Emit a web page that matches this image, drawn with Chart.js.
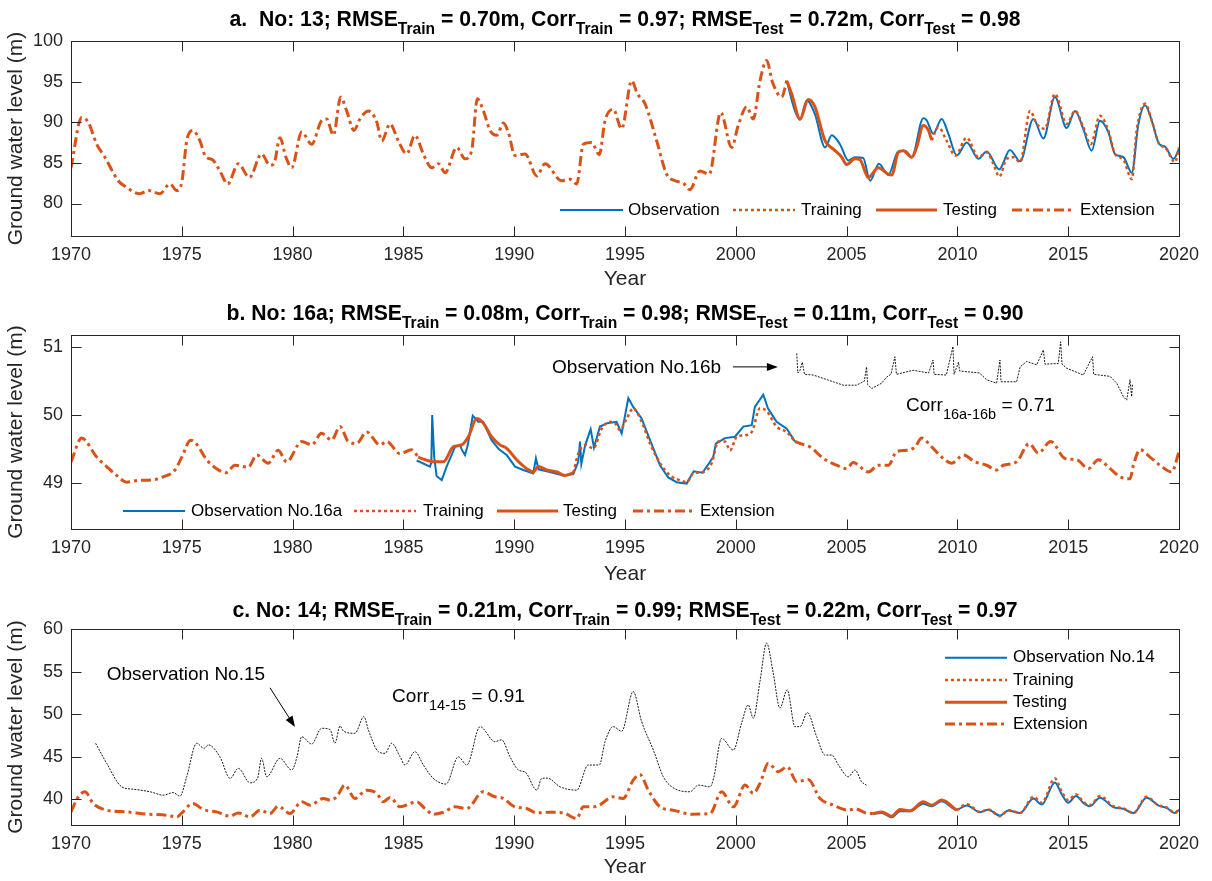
<!DOCTYPE html>
<html>
<head>
<meta charset="utf-8">
<script src="https://cdn.jsdelivr.net/npm/chart.js@4"></script>
<style>
  body { margin: 0; background: #fff; }
  #wrap { position: relative; width: 1212px; height: 881px; }
  canvas { position: absolute; left: 0; }
</style>
</head>
<body>
<div id="wrap">
  <canvas id="chartA" width="1212" height="295" style="top:0"></canvas>
  <canvas id="chartB" width="1212" height="295" style="top:295px"></canvas>
  <canvas id="chartC" width="1212" height="291" style="top:590px"></canvas>
</div>
<script>
const FONT = "'Liberation Sans', Arial, Helvetica, sans-serif";
const AXIS = '#262626';
const BLUE = '#0072BD';
const ORANGE = '#D95319';

// shared axis ticks
const xTicks = [1970, 1975, 1980, 1985, 1990, 1995, 2000, 2005, 2010, 2015, 2020];
const yTicksA = [80, 85, 90, 95, 100];
const yTicksB = [49, 50, 51];
const yTicksC = [40, 45, 50, 55, 60];

// ---- well 13 ----
const aExtension = [[1970.0,84.4],[1970.48,90.6],[1970.78,90.0],[1971.16,87.3],[1971.53,85.7],[1972.13,82.8],[1972.5,82.0],[1973.1,81.2],[1973.5,81.6],[1974.0,81.2],[1974.47,82.4],[1974.77,81.6],[1975.0,82.6],[1975.22,87.7],[1975.49,89.0],[1975.82,87.7],[1976.05,85.9],[1976.42,85.3],[1976.72,84.0],[1977.07,82.4],[1977.55,84.9],[1978.05,83.2],[1978.6,86.1],[1978.98,84.7],[1979.16,84.9],[1979.43,88.1],[1979.7,85.7],[1979.96,84.4],[1980.41,88.8],[1980.86,87.3],[1981.31,90.2],[1981.54,90.4],[1981.84,88.4],[1982.17,93.1],[1982.44,91.4],[1982.77,89.0],[1983.04,90.4],[1983.42,91.4],[1983.8,90.0],[1984.02,87.7],[1984.4,89.8],[1984.77,87.7],[1985.15,86.1],[1985.52,88.4],[1985.9,86.1],[1986.28,84.4],[1986.58,84.9],[1986.88,83.8],[1987.41,86.9],[1987.78,85.5],[1988.08,86.5],[1988.34,92.9],[1988.61,91.4],[1988.91,89.0],[1989.21,88.4],[1989.51,89.9],[1989.73,88.8],[1990.04,85.9],[1990.49,86.1],[1991.02,83.4],[1991.39,84.9],[1992.14,82.8],[1992.52,83.0],[1992.82,82.4],[1993.12,87.3],[1993.5,87.5],[1993.84,86.0],[1994.1,90.2],[1994.47,91.6],[1994.85,89.2],[1995.3,95.1],[1995.56,93.5],[1995.9,92.3],[1996.43,87.7],[1996.88,83.6],[1997.26,82.8],[1997.63,82.5],[1997.93,81.7],[1998.38,84.0],[1998.8,83.6],[1999.32,91.2],[1999.81,86.9],[2000.11,89.6],[2000.49,91.9],[2000.79,90.4],[2001.09,95.1],[2001.39,97.6],[2001.66,94.9],[2002.07,93.1],[2002.3,95.1]];
const aTesting = [[2002.3,95.1],[2002.52,93.5],[2002.9,90.4],[2003.27,92.8],[2003.57,91.9],[2004.03,87.7],[2004.4,86.7],[2004.78,85.7],[2005.0,84.8],[2005.38,85.5],[2005.6,85.4],[2005.98,83.2],[2006.43,84.4],[2006.88,83.6],[2007.04,83.5],[2007.33,86.3],[2007.56,86.5],[2007.94,85.7],[2008.16,86.9],[2008.46,89.6],[2008.69,89.0],[2008.84,87.8]];
const aTraining = [[2008.84,87.8],[2009.14,89.4],[2009.52,87.7],[2009.9,85.9],[2010.42,88.1],[2010.95,85.7],[2011.32,86.3],[2011.62,84.9],[2011.89,83.3],[2012.22,85.5],[2012.52,85.7],[2012.83,85.1],[2013.28,91.4],[2013.58,89.8],[2013.95,89.2],[2014.4,93.5],[2014.93,89.8],[2015.31,91.4],[2015.68,89.4],[2016.02,87.3],[2016.43,90.8],[2016.81,89.0],[2017.11,86.1],[2017.49,85.4],[2017.87,83.0],[2018.09,89.0],[2018.47,92.3],[2018.77,90.2],[2019.11,87.3],[2019.37,86.9],[2019.82,85.1],[2020.0,86.9]];
const aObserved = [[2002.3,95.1],[2002.67,91.4],[2002.9,90.3],[2003.2,92.7],[2003.57,91.0],[2004.03,86.9],[2004.33,88.4],[2004.7,87.3],[2005.08,85.3],[2005.38,85.7],[2005.75,85.6],[2006.06,82.8],[2006.46,84.9],[2006.88,83.5],[2007.33,86.4],[2007.64,86.5],[2007.94,85.7],[2008.46,90.5],[2008.6,90.3],[2008.91,88.6],[2009.29,90.4],[2009.59,88.6],[2009.97,85.9],[2010.42,87.5],[2010.95,85.5],[2011.32,86.4],[2011.89,84.2],[2012.37,86.6],[2012.83,85.2],[2013.43,90.4],[2013.88,88.0],[2014.4,93.1],[2014.93,89.3],[2015.31,91.4],[2015.68,89.2],[2016.06,86.5],[2016.43,90.2],[2016.81,88.8],[2017.11,86.1],[2017.49,85.7],[2017.87,83.8],[2018.17,89.8],[2018.47,92.1],[2018.77,90.2],[2019.11,87.3],[2019.37,87.0],[2019.75,85.5],[2020.0,86.7]];

// ---- well 16a / 16b ----
const bExtension = [[1970.0,49.31],[1970.48,49.66],[1971.16,49.38],[1971.61,49.24],[1972.06,49.11],[1972.51,49.01],[1973.11,49.04],[1973.5,49.04],[1974.17,49.09],[1974.69,49.19],[1975.0,49.38],[1975.4,49.63],[1975.67,49.57],[1976.12,49.34],[1976.57,49.21],[1976.99,49.15],[1977.4,49.26],[1978.0,49.23],[1978.38,49.41],[1978.9,49.29],[1979.35,49.48],[1979.73,49.31],[1980.41,49.61],[1980.86,49.56],[1981.31,49.73],[1981.76,49.63],[1982.14,49.83],[1982.51,49.61],[1982.89,49.58],[1983.34,49.75],[1983.94,49.56],[1984.25,49.61],[1984.85,49.43],[1985.37,49.49],[1985.67,49.38],[1994.0,null],[2002.67,49.61],[2002.9,49.58],[2003.35,49.53],[2003.95,49.36],[2004.55,49.26],[2005.0,49.21],[2005.3,49.30],[2005.98,49.16],[2006.43,49.26],[2006.88,49.26],[2007.26,49.46],[2007.71,49.48],[2008.09,49.53],[2008.39,49.66],[2008.84,49.53],[2009.29,49.38],[2009.74,49.29],[2010.27,49.41],[2010.79,49.31],[2011.32,49.26],[2011.77,49.19],[2012.07,49.26],[2012.67,49.31],[2013.24,49.58],[2013.65,49.44],[2014.21,49.61],[2014.86,49.36],[2015.39,49.34],[2015.91,49.21],[2016.36,49.34],[2016.89,49.21],[2017.34,49.09],[2017.79,49.06],[2017.94,49.26],[2018.24,49.49],[2018.69,49.38],[2019.14,49.26],[2019.67,49.16],[2020.0,49.46]];
const bTesting = [[1985.67,49.38],[1985.9,49.35],[1986.35,49.31],[1986.8,49.31],[1987.25,49.53],[1987.63,49.56],[1987.93,49.68],[1988.31,49.95],[1988.61,49.88],[1988.98,49.68],[1989.36,49.56],[1989.66,49.51],[1990.11,49.34],[1990.56,49.21],[1990.86,49.16],[1991.09,49.24],[1991.47,49.19],[1991.92,49.16],[1992.29,49.11],[1992.67,49.15]];
const bTraining = [[1992.67,49.15],[1992.89,49.43],[1993.2,49.56],[1993.57,49.51],[1993.95,49.80],[1994.32,49.90],[1994.55,49.88],[1994.77,49.78],[1995.08,49.95],[1995.37,50.10],[1995.75,49.90],[1996.13,49.58],[1996.58,49.29],[1997.03,49.11],[1997.48,49.04],[1997.78,49.01],[1998.08,49.14],[1998.53,49.16],[1998.91,49.29],[1999.21,49.61],[1999.51,49.61],[1999.74,49.48],[2000.04,49.68],[2000.34,49.70],[2000.72,49.75],[2001.09,50.10],[2001.39,50.06],[2001.84,49.83],[2002.3,49.75],[2002.67,49.61]];
const bObserved = [[1985.6,49.33],[1986.2,49.24],[1986.26,49.3],[1986.3,50.0],[1986.39,49.38],[1986.5,49.1],[1986.73,49.04],[1986.95,49.24],[1987.33,49.53],[1987.55,49.56],[1987.65,49.48],[1987.78,49.41],[1987.9,49.55],[1988.13,49.99],[1988.38,49.90],[1988.6,49.9],[1988.98,49.63],[1989.3,49.5],[1989.66,49.41],[1990.04,49.24],[1990.41,49.19],[1990.86,49.14],[1990.98,49.36],[1991.1,49.2],[1991.61,49.16],[1992.22,49.11],[1992.67,49.13],[1992.89,49.31],[1992.97,49.61],[1993.03,49.28],[1993.2,49.55],[1993.45,49.79],[1993.6,49.52],[1993.87,49.83],[1994.2,49.88],[1994.62,49.90],[1994.85,49.73],[1995.15,50.25],[1995.37,50.12],[1995.75,49.95],[1996.13,49.63],[1996.58,49.26],[1996.95,49.08],[1997.33,49.01],[1997.78,48.99],[1998.1,49.17],[1998.5,49.15],[1998.98,49.38],[1999.1,49.58],[1999.51,49.66],[1999.96,49.68],[2000.34,49.83],[2000.72,49.85],[2000.86,50.12],[2001.24,50.30],[2001.45,50.1],[2001.84,49.90],[2002.3,49.80],[2002.67,49.61]];
const bObserved16b = [[2002.75,50.91],[2002.8,50.62],[2002.9,50.66],[2003.0,50.78],[2003.1,50.6],[2003.5,50.59],[2003.95,50.54],[2004.4,50.49],[2004.85,50.44],[2005.45,50.44],[2005.8,50.5],[2005.9,50.71],[2005.95,50.45],[2006.13,50.39],[2006.58,50.47],[2006.81,50.56],[2007.0,50.6],[2007.18,50.86],[2007.25,50.6],[2008.0,50.66],[2008.7,50.62],[2008.9,50.81],[2008.95,50.6],[2009.5,50.59],[2009.8,51.01],[2009.85,50.6],[2010.05,50.78],[2010.1,50.65],[2011.0,50.62],[2011.32,50.52],[2011.77,50.47],[2011.92,50.81],[2011.97,50.49],[2012.67,50.49],[2012.83,50.71],[2013.13,50.79],[2013.58,50.74],[2013.88,50.96],[2013.95,50.75],[2014.55,50.76],[2014.66,51.08],[2014.72,50.75],[2014.93,50.69],[2015.68,50.59],[2016.1,50.86],[2016.15,50.6],[2016.89,50.57],[2017.19,50.47],[2017.49,50.27],[2017.64,50.22],[2017.79,50.52],[2017.86,50.27],[2017.9,50.45]];

// ---- well 14 / 15 ----
const cExtension = [[1970.0,38.54],[1970.33,40.31],[1970.63,40.9],[1971.0,39.53],[1971.61,38.74],[1972.51,38.54],[1973.42,38.27],[1974.32,38.15],[1974.77,37.95],[1975.0,38.42],[1975.49,39.53],[1975.97,38.82],[1976.57,38.54],[1977.18,38.04],[1977.55,38.42],[1978.08,37.95],[1978.53,38.74],[1978.98,38.35],[1979.35,39.21],[1979.88,38.35],[1980.41,39.72],[1980.79,39.33],[1981.39,40.12],[1981.69,39.92],[1981.99,40.31],[1982.36,41.68],[1982.81,40.12],[1983.34,41.09],[1983.8,40.71],[1984.09,39.72],[1984.4,40.24],[1984.85,39.13],[1985.6,39.72],[1985.97,38.94],[1986.35,38.27],[1986.8,38.5],[1987.33,39.13],[1987.86,38.94],[1988.6,40.9],[1989.13,40.31],[1989.43,40.2],[1990.04,39.13],[1990.56,38.94],[1991.02,38.42],[1991.6,38.5],[1992.22,38.42],[1992.82,37.76],[1993.12,39.13],[1993.57,39.13],[1993.84,39.33],[1994.47,40.31],[1994.92,40.12],[1995.37,42.27],[1995.67,42.94],[1996.05,41.09],[1996.58,39.13],[1997.18,38.74],[1998.01,38.27],[1998.84,38.35],[1999.36,40.9],[1999.89,39.13],[2000.42,41.68],[2000.79,40.71],[2001.09,41.88],[2001.47,44.24],[2001.92,43.25],[2002.32,43.84],[2002.75,42.07],[2003.27,42.35],[2003.8,40.12],[2004.4,39.33],[2005.08,38.74],[2005.38,38.9],[2005.98,38.35],[2006.2,38.35]];
const cTesting = [[2006.2,38.35],[2006.58,38.54],[2007.04,38.04],[2007.41,38.82],[2007.86,38.66],[2008.46,39.72],[2008.84,39.33],[2009.29,39.92],[2009.97,38.74]];
const cTraining = [[2009.97,38.74],[2010.42,39.45],[2011.02,38.54],[2011.39,38.82],[2011.92,38.04],[2012.3,38.74],[2012.83,38.42],[2013.43,40.31],[2013.81,39.6],[2014.4,42.47],[2014.71,40.9],[2015.0,39.92],[2015.35,40.62],[2015.68,39.72],[2015.98,39.33],[2016.43,40.39],[2017.03,39.21],[2017.49,38.94],[2017.94,38.42],[2018.54,40.31],[2019.06,39.33],[2019.44,39.06],[2019.82,38.42],[2020.0,38.94]];
const cObserved = [[2006.2,38.3],[2006.58,38.4],[2007.04,37.9],[2007.41,38.6],[2007.86,38.6],[2008.46,39.5],[2008.84,39.2],[2009.29,39.8],[2009.97,38.8],[2010.42,39.3],[2011.02,38.5],[2011.39,38.8],[2011.92,38.1],[2012.3,38.7],[2012.83,38.4],[2013.43,40.1],[2013.81,39.4],[2014.4,42.0],[2014.71,40.6],[2015.0,39.6],[2015.35,40.4],[2015.68,39.6],[2015.98,39.2],[2016.43,40.2],[2017.03,39.1],[2017.49,38.9],[2017.94,38.4],[2018.54,40.2],[2019.06,39.3],[2019.44,39.0],[2019.82,38.4],[2020.0,38.8]];
const cObserved15 = [[1971.11,46.59],[1971.61,44.24],[1972.29,41.48],[1972.8,41.2],[1973.57,40.9],[1974.17,40.5],[1974.6,40.8],[1974.92,40.4],[1975.22,42.66],[1975.67,46.59],[1976.0,46.0],[1976.2,46.4],[1976.72,45.0],[1977.18,42.47],[1977.55,43.65],[1978.08,41.95],[1978.42,42.5],[1978.6,44.82],[1978.83,42.66],[1979.43,44.82],[1979.96,43.45],[1980.2,45.0],[1980.41,47.36],[1980.86,46.5],[1981.31,48.35],[1981.69,48.2],[1981.91,46.59],[1982.14,48.62],[1982.3,48.0],[1982.81,47.76],[1983.22,49.72],[1983.42,48.15],[1983.87,45.6],[1984.17,45.41],[1984.47,46.59],[1984.85,45.0],[1985.07,44.04],[1985.52,45.6],[1985.9,44.04],[1986.35,42.47],[1986.92,41.8],[1987.48,45.0],[1987.86,44.04],[1988.46,48.54],[1989.13,46.78],[1989.43,47.0],[1989.81,45.0],[1990.19,43.45],[1990.5,43.2],[1991.02,41.09],[1991.24,42.47],[1991.5,42.5],[1992.07,41.48],[1992.82,41.09],[1993.34,44.04],[1993.84,44.04],[1994.1,46.78],[1994.47,48.54],[1994.85,48.0],[1995.37,52.66],[1995.75,49.13],[1996.28,45.8],[1996.73,42.66],[1997.11,41.48],[1997.93,40.9],[1998.31,41.68],[1998.84,41.48],[1999.0,42.5],[1999.36,47.17],[1999.89,45.8],[2000.26,48.94],[2000.56,51.09],[2000.79,49.53],[2001.09,53.83],[2001.39,58.35],[2001.69,54.82],[2001.99,50.71],[2002.32,52.86],[2002.67,48.54],[2002.9,48.54],[2003.23,50.19],[2003.65,47.36],[2004.03,45.21],[2004.33,45.21],[2004.63,44.04],[2005.08,42.66],[2005.38,43.45],[2005.68,42.07],[2005.9,41.68]];

// line styles
const OBS = {borderColor: BLUE, borderWidth: 2, cubicInterpolationMode: 'monotone', order: 2};
const OBS_RAW = {borderColor: BLUE, borderWidth: 2, tension: 0, order: 2};
const TRAIN = {borderColor: ORANGE, borderWidth: 2.5, borderDash: [3, 3], cubicInterpolationMode: 'monotone', order: 1};
const TEST = {borderColor: ORANGE, borderWidth: 3, cubicInterpolationMode: 'monotone', order: 1};
const EXT = {borderColor: ORANGE, borderWidth: 3, borderDash: [10, 4, 3, 4], cubicInterpolationMode: 'monotone', order: 1};
const NEIGHBOUR = {borderColor: '#000', borderWidth: 0.9, borderDash: [2, 1.2], tension: 0, order: 3};
const NEIGHBOUR_SMOOTH = Object.assign({}, NEIGHBOUR, {cubicInterpolationMode: 'monotone'});

function series(label, pairs, style) {
  return Object.assign({
    label: label,
    data: pairs.map(p => ({x: p[0], y: p[1]})),
    pointRadius: 0,
    pointHoverRadius: 0,
    fill: false
  }, style);
}

// text with _{...} subscripts, MATLAB style
function richParts(str) {
  const parts = [];
  str.split(/(_\{[^}]*\})/).forEach(s => {
    if (!s) return;
    if (s.startsWith('_{')) parts.push({t: s.slice(2, -1), sub: true});
    else parts.push({t: s, sub: false});
  });
  return parts;
}

function drawRich(ctx, str, x, y, f, align) {
  const parts = richParts(str);
  const fontOf = p => f.weight + ' ' + (p.sub ? f.sub : f.size) + 'px ' + FONT;
  let w = 0;
  parts.forEach(p => { ctx.font = fontOf(p); p.w = ctx.measureText(p.t).width; w += p.w; });
  let cx = align === 'center' ? x - w / 2 : x;
  ctx.textAlign = 'left';
  ctx.textBaseline = 'alphabetic';
  parts.forEach(p => {
    ctx.font = fontOf(p);
    ctx.fillText(p.t, cx, p.sub ? y + f.drop : y);
    cx += p.w;
  });
}

// frame, inward ticks, title, in-axes legend and annotations
const panelDecor = {
  id: 'panelDecor',
  afterDraw(chart, args, opts) {
    const ctx = chart.ctx;
    const ca = chart.chartArea;
    const xs = chart.scales.x, ys = chart.scales.y;
    ctx.save();

    ctx.strokeStyle = AXIS;
    ctx.lineWidth = 1;
    ctx.setLineDash([]);
    const L = Math.round(ca.left) + 0.5, T = Math.round(ca.top) + 0.5;
    const R = Math.round(ca.right) + 0.5, B = Math.round(ca.bottom) + 0.5;
    ctx.strokeRect(L, T, R - L, B - T);
    ctx.beginPath();
    xs.ticks.forEach(t => {
      const px = Math.round(xs.getPixelForValue(t.value)) + 0.5;
      ctx.moveTo(px, B); ctx.lineTo(px, B - 10);
      ctx.moveTo(px, T); ctx.lineTo(px, T + 10);
    });
    ys.ticks.forEach(t => {
      const py = Math.round(ys.getPixelForValue(t.value)) + 0.5;
      ctx.moveTo(L, py); ctx.lineTo(L + 10, py);
      ctx.moveTo(R, py); ctx.lineTo(R - 10, py);
    });
    ctx.stroke();

    // title
    ctx.fillStyle = '#000';
    drawRich(ctx, opts.title, (ca.left + ca.right) / 2, opts.titleY,
      {weight: 'bold', size: 21.2, sub: 15.6, drop: 8}, 'center');

    // legend
    const lg = opts.legend;
    lg.items.forEach((it, i) => {
      const ds = chart.data.datasets[it.ds];
      const y = lg.ys ? lg.ys[i] : lg.y;
      ctx.strokeStyle = ds.borderColor;
      ctx.lineWidth = ds.borderWidth;
      ctx.setLineDash(ds.borderDash || []);
      ctx.beginPath();
      ctx.moveTo(it.x1, y);
      ctx.lineTo(it.x2, y);
      ctx.stroke();
      ctx.setLineDash([]);
      ctx.fillStyle = '#000';
      ctx.font = '17px ' + FONT;
      ctx.textAlign = 'left';
      ctx.textBaseline = 'middle';
      ctx.fillText(ds.label, it.tx, y);
    });

    // annotations placed in data units
    (opts.notes || []).forEach(n => {
      ctx.fillStyle = '#000';
      drawRich(ctx, n.text, xs.getPixelForValue(n.x), ys.getPixelForValue(n.y),
        {weight: 'normal', size: 19, sub: 14.5, drop: 8.5}, 'left');
    });
    (opts.arrows || []).forEach(a => {
      const x1 = xs.getPixelForValue(a.x1), y1 = ys.getPixelForValue(a.y1);
      const x2 = xs.getPixelForValue(a.x2), y2 = ys.getPixelForValue(a.y2);
      const ang = Math.atan2(y2 - y1, x2 - x1);
      ctx.strokeStyle = '#000';
      ctx.fillStyle = '#000';
      ctx.lineWidth = 1;
      ctx.beginPath();
      ctx.moveTo(x1, y1);
      ctx.lineTo(x2 - 8 * Math.cos(ang), y2 - 8 * Math.sin(ang));
      ctx.stroke();
      ctx.beginPath();
      ctx.moveTo(x2, y2);
      ctx.lineTo(x2 - 11 * Math.cos(ang) + 4 * Math.sin(ang), y2 - 11 * Math.sin(ang) - 4 * Math.cos(ang));
      ctx.lineTo(x2 - 11 * Math.cos(ang) - 4 * Math.sin(ang), y2 - 11 * Math.sin(ang) + 4 * Math.cos(ang));
      ctx.closePath();
      ctx.fill();
    });
    ctx.restore();
  }
};

Chart.defaults.font.family = FONT;

function makeChart(id, datasets, yMin, yMax, yTicks, box, decor) {
  return new Chart(document.getElementById(id), {
    type: 'line',
    data: {datasets: datasets},
    options: {
      responsive: false,
      animation: false,
      devicePixelRatio: 1,
      layout: {padding: {top: box.top, right: 33, bottom: 0, left: 0}},
      plugins: {legend: {display: false}, tooltip: {enabled: false}, panelDecor: decor},
      scales: {
        x: {
          type: 'linear', min: 1970, max: 2020,
          afterBuildTicks: s => { s.ticks = xTicks.map(v => ({value: v})); },
          afterFit: s => { s.height = box.xh; s.paddingLeft = 0; s.paddingRight = 0; },
          grid: {display: false, drawTicks: false},
          border: {display: false},
          ticks: {font: {size: 18}, color: AXIS, padding: 8, maxRotation: 0, autoSkip: false, callback: v => String(v)},
          title: {display: true, text: 'Year', font: {size: 21}, color: AXIS, padding: {top: 0, bottom: box.yearPad}}
        },
        y: {
          type: 'linear', min: yMin, max: yMax,
          afterBuildTicks: s => { s.ticks = yTicks.map(v => ({value: v})); },
          afterFit: s => { s.width = 71; s.paddingTop = 0; s.paddingBottom = 0; },
          grid: {display: false, drawTicks: false},
          border: {display: false},
          ticks: {font: {size: 18}, color: AXIS, padding: 8, callback: v => String(v)},
          title: {display: true, text: 'Ground water level (m)', font: {size: 21}, color: AXIS, padding: {top: 4, bottom: 0}}
        }
      }
    },
    plugins: [panelDecor]
  });
}

makeChart('chartA', [
  series('Observation', aObserved, OBS),
  series('Training', aTraining, TRAIN),
  series('Testing', aTesting, TEST),
  series('Extension', aExtension, EXT)
], 76, 100, yTicksA, {top: 41, xh: 59, yearPad: 3.4}, {
  title: 'a.  No: 13; RMSE_{Train} = 0.70m, Corr_{Train} = 0.97; RMSE_{Test} = 0.72m, Corr_{Test} = 0.98',
  titleY: 26,
  legend: {y: 210, items: [
    {ds: 0, x1: 560, x2: 623, tx: 628},
    {ds: 1, x1: 733, x2: 795, tx: 801},
    {ds: 2, x1: 876, x2: 937, tx: 943},
    {ds: 3, x1: 1012, x2: 1075, tx: 1080}
  ]}
});

makeChart('chartB', [
  series('Observation No.16a', bObserved, OBS_RAW),
  series('Training', bTraining, TRAIN),
  series('Testing', bTesting, TEST),
  series('Extension', bExtension, EXT),
  series('Observation No.16b', bObserved16b, NEIGHBOUR)
], 48.32, 51.18, yTicksB, {top: 40, xh: 61, yearPad: 3.4}, {
  title: 'b. No: 16a; RMSE_{Train} = 0.08m, Corr_{Train} = 0.98; RMSE_{Test} = 0.11m, Corr_{Test} = 0.90',
  titleY: 25,
  legend: {y: 216, items: [
    {ds: 0, x1: 123, x2: 185, tx: 191},
    {ds: 1, x1: 354, x2: 416, tx: 423},
    {ds: 2, x1: 497, x2: 558, tx: 563},
    {ds: 3, x1: 633, x2: 693, tx: 700}
  ]},
  notes: [
    {x: 1991.71, y: 50.616, text: 'Observation No.16b'},
    {x: 2007.68, y: 50.064, text: 'Corr_{16a-16b} = 0.71'}
  ],
  arrows: [{x1: 1999.87, y1: 50.71, x2: 2001.9, y2: 50.71}]
});

makeChart('chartC', [
  series('Observation No.14', cObserved, OBS),
  series('Training', cTraining, TRAIN),
  series('Testing', cTesting, TEST),
  series('Extension', cExtension, EXT),
  series('Observation No.15', cObserved15, NEIGHBOUR_SMOOTH)
], 37, 60, yTicksC, {top: 39, xh: 56, yearPad: 1.4}, {
  title: 'c. No: 14; RMSE_{Train} = 0.21m, Corr_{Train} = 0.99; RMSE_{Test} = 0.22m, Corr_{Test} = 0.97',
  titleY: 26.5,
  legend: {ys: [67.7, 90, 112.3, 134], items: [
    {ds: 0, x1: 945, x2: 1007, tx: 1013},
    {ds: 1, x1: 945, x2: 1007, tx: 1013},
    {ds: 2, x1: 945, x2: 1007, tx: 1013},
    {ds: 3, x1: 945, x2: 1007, tx: 1013}
  ]},
  notes: [
    {x: 1971.61, y: 54.04, text: 'Observation No.15'},
    {x: 1984.49, y: 51.48, text: 'Corr_{14-15} = 0.91'}
  ],
  arrows: [{x1: 1978.98, y1: 53.1, x2: 1980.11, y2: 48.5}]
});
</script>
</body>
</html>
